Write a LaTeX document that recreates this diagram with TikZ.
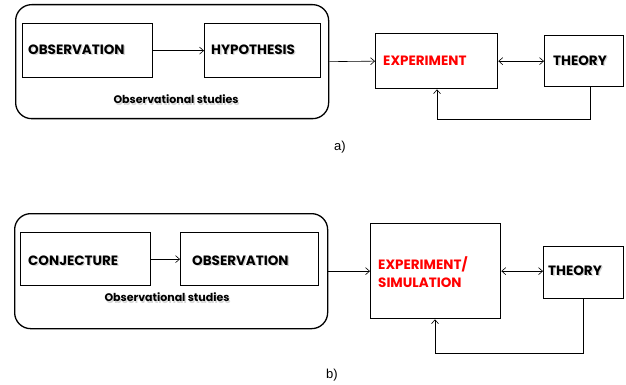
\documentclass[tikz,border=0pt]{standalone}
\usepackage{fontspec}
\setmainfont{Poppins}
\newfontfamily\capfont{Liberation Sans}
\usetikzlibrary{arrows.meta,calc}
\newcommand{\shd}[1]{\makebox[0pt][l]{\hspace{1.3pt}\raisebox{-1.4pt}{\textcolor{black!16}{#1}}}#1}
\begin{document}
\begin{tikzpicture}[x=1pt,y=-1pt,
  box/.style={draw,line width=1.3pt,anchor=north west,inner sep=0pt},
  outer/.style={draw,line width=1.3pt,rounded corners=16pt,anchor=north west,inner sep=0pt},
  lbl/.style={anchor=west,inner sep=0pt,font=\fontsize{13.5}{15}\selectfont\bfseries},
  sub/.style={inner sep=0pt,font=\fontsize{11}{13}\selectfont\bfseries},
  captxt/.style={inner sep=0pt,font=\capfont\fontsize{13}{15}\selectfont},
  arr/.style={line width=0.6pt,-{Straight Barb[length=4pt,width=7pt]}},
  darr/.style={line width=0.6pt,{Straight Barb[length=4pt,width=7pt]}-{Straight Barb[length=4pt,width=7pt]}},
  fb/.style={line width=0.6pt,-{Straight Barb[length=4pt,width=7pt]}}]
\useasboundingbox (0,0) rectangle (626,385);
% ---------- a) ----------
\node[outer,minimum width=313pt,minimum height=114pt] (ob1) at (15,4) {};
\node[box,minimum width=130pt,minimum height=54pt] (o1) at (22,23) {};
\node[box,minimum width=116pt,minimum height=54pt] (h1) at (204,23) {};
\node[box,minimum width=122pt,minimum height=55pt] (ex1) at (375,33) {};
\node[box,minimum width=79pt,minimum height=51pt] (th1) at (544,35) {};
\node[lbl] (to1) at (28,50) {\shd{OBSERVATION}};
\node[lbl] (th1t) at (211,50) {\shd{HYPOTHESIS}};
\node[lbl,text=red] (ex1t) at (383,61) {EXPERIMENT};
\node[lbl] (thy1t) at (553,61) {\shd{THEORY}};
\node[sub] (os1) at (176,100) {\shd{Observational studies}};
\node[captxt] (ca) at (340,147) {a)};
\coordinate (fb1) at (437,119);
\draw[arr] (o1.east) -- (h1.west);
\draw[arr] (ob1.east) -- (ex1.west);
\draw[darr] (ex1.east) -- (ex1.east -| th1.west);
\draw[fb] ([xshift=6.5pt]th1.south) |- (fb1) -- (fb1 |- ex1.south);
% ---------- b) ----------
\node[outer,minimum width=313pt,minimum height=115pt] (ob2) at (14,213) {};
\node[box,minimum width=130pt,minimum height=53pt] (c2) at (20,232) {};
\node[box,minimum width=138pt,minimum height=53pt] (o2) at (180,232) {};
\node[box,minimum width=130pt,minimum height=95pt] (ex2) at (370,223) {};
\node[box,minimum width=80pt,minimum height=52pt] (th2) at (543,246) {};
\node[lbl] (c2t) at (28,261) {\shd{CONJECTURE}};
\node[lbl] (o2t) at (192,261) {\shd{OBSERVATION}};
\node[lbl,text=red,anchor=west,align=left,font=\fontsize{13.5}{18.5}\selectfont\bfseries] (ex2t) at (378,272) {EXPERIMENT/\\SIMULATION};
\node[lbl] (thy2t) at (548,271) {\shd{THEORY}};
\node[sub] (os2) at (167,298) {\shd{Observational studies}};
\node[captxt] (cb) at (332,375) {b)};
\coordinate (fb2) at (435,353);
\draw[arr] (c2.east) -- (o2.west);
\draw[arr] (ob2.east) -- (ob2.east -| ex2.west);
\draw[darr] (ex2.east) -- (ex2.east -| th2.west);
\draw[fb] (th2.south) |- (fb2) -- (fb2 |- ex2.south);
\end{tikzpicture}
\end{document}
